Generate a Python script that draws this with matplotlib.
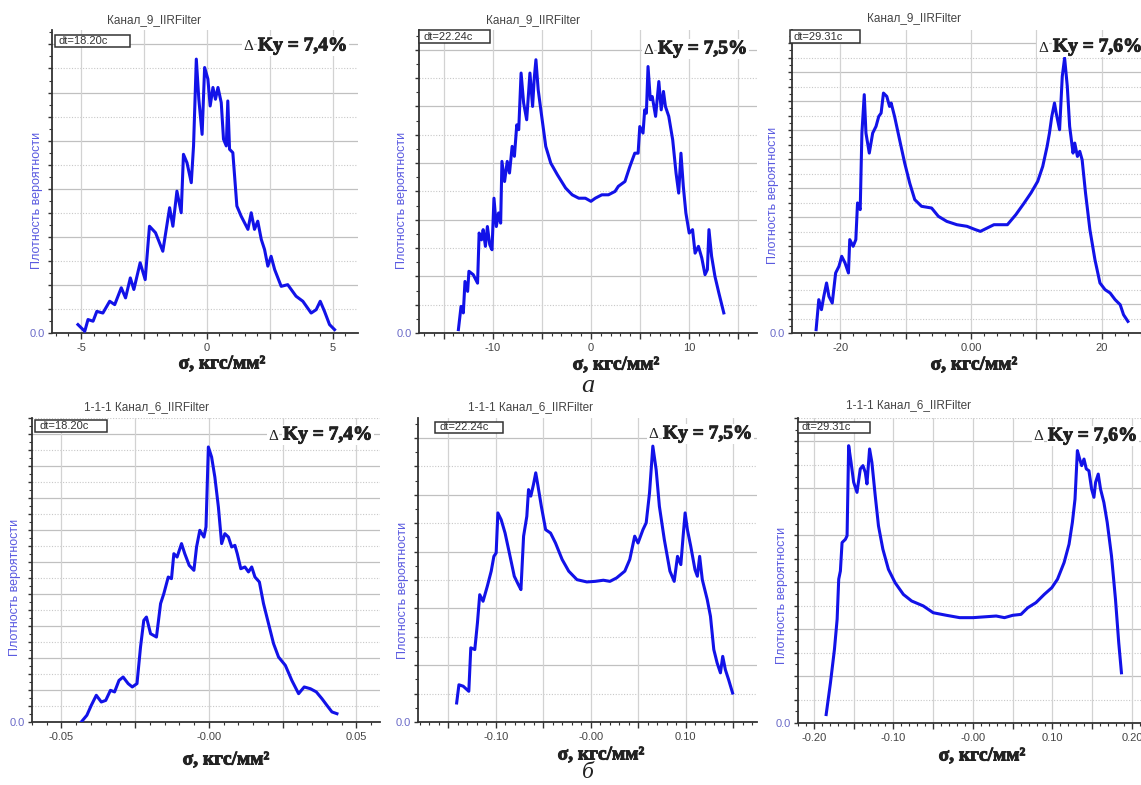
import matplotlib
matplotlib.use("Agg")
import matplotlib.pyplot as plt
import matplotlib.patheffects as pe
from matplotlib.patches import Rectangle
import numpy as np

p1_sigma = [-5.12, -4.85, -4.72, -4.52, -4.37, -4.13, -3.86, -3.66, -3.40, -3.23,
            -3.04, -2.90, -2.65, -2.45, -2.28, -2.04, -1.75, -1.48, -1.35, -1.19,
            -1.02, -0.93, -0.79, -0.62, -0.53, -0.42, -0.32, -0.19, -0.09, 0.04,
            0.13, 0.24, 0.34, 0.44, 0.57, 0.66, 0.77, 0.83, 0.90, 1.03,
            1.19, 1.36, 1.63, 1.76, 1.89, 2.02, 2.16, 2.29, 2.42, 2.55,
            2.69, 2.95, 3.21, 3.54, 3.81, 4.14, 4.34, 4.50, 4.67, 4.87, 5.07]
p1_density = [0.35, 0.07, 0.56, 0.49, 0.90, 0.83, 1.32, 1.18, 1.88, 1.46,
              2.29, 1.81, 2.92, 2.22, 4.44, 4.17, 3.40, 5.21, 4.44, 5.90,
              5.00, 7.43, 7.08, 6.25, 7.78, 11.39, 9.72, 8.26, 11.04, 10.56,
              9.44, 10.21, 9.72, 10.21, 9.58, 8.06, 7.78, 9.65, 7.64, 7.50,
              5.28, 4.86, 4.31, 5.00, 4.31, 4.65, 3.89, 3.47, 2.78, 3.19,
              2.64, 1.94, 2.01, 1.53, 1.32, 0.83, 0.97, 1.32, 0.90, 0.35, 0.14]

p2_sigma = [-13.49, -13.22, -12.99, -12.82, -12.55, -12.42, -11.98, -11.54, -11.38, -11.14,
            -10.97, -10.74, -10.54, -10.30, -10.07, -9.87, -9.63, -9.40, -9.19, -9.06,
            -8.79, -8.52, -8.29, -8.02, -7.79, -7.55, -7.35, -7.11, -6.85, -6.54,
            -6.21, -5.94, -5.77, -5.60, -5.37, -5.10, -4.60, -4.09, -3.42, -2.58,
            -1.91, -1.24, -0.57, 0.00, 0.44, 1.11, 1.78, 2.45, 2.79, 3.46,
            3.96, 4.46, 4.80, 4.97, 5.30, 5.47, 5.64, 5.81, 6.04, 6.24,
            6.58, 6.91, 7.15, 7.38, 7.58, 7.92, 8.32, 8.66, 8.93, 9.16,
            9.40, 9.66, 10.00, 10.34, 10.60, 10.94, 11.28, 11.61, 11.85, 12.01,
            12.28, 12.62, 13.02, 13.52]
p2_density = [0.12, 0.94, 0.71, 1.82, 1.47, 2.18, 2.06, 1.76, 3.53, 3.29,
              3.65, 3.06, 3.76, 3.12, 2.94, 4.76, 3.76, 4.24, 3.88, 6.06,
              5.35, 6.06, 5.65, 6.59, 6.24, 7.35, 7.18, 9.18, 8.12, 7.53,
              9.18, 8.00, 9.00, 9.65, 8.59, 7.88, 6.59, 6.00, 5.59, 5.12,
              4.88, 4.76, 4.76, 4.65, 4.76, 4.88, 4.88, 5.00, 5.18, 5.35,
              5.88, 6.35, 6.35, 7.29, 7.06, 7.88, 7.76, 9.41, 8.24, 8.35,
              7.65, 8.88, 7.88, 8.53, 8.00, 7.65, 6.82, 5.65, 4.94, 6.35,
              5.18, 4.24, 3.53, 3.65, 2.82, 3.06, 2.65, 2.06, 2.24, 3.65,
              2.71, 2.00, 1.41, 0.71]

p3_sigma = [-23.71, -23.30, -22.89, -22.53, -22.11, -21.75, -21.24, -20.72, -20.21, -19.79,
            -19.28, -18.76, -18.56, -18.04, -17.63, -17.37, -16.96, -16.70, -16.34, -16.08,
            -15.57, -15.05, -14.54, -14.12, -13.76, -13.40, -12.89, -12.47, -12.22, -11.70,
            -10.93, -10.15, -9.38, -8.61, -7.58, -6.03, -5.00, -3.71, -2.16, -0.62,
            0.67, 1.44, 2.47, 3.51, 5.57, 6.86, 8.14, 9.18, 10.21, 10.98,
            11.65, 12.01, 12.37, 12.78, 13.04, 13.56, 13.97, 14.33, 14.74, 15.10,
            15.62, 15.88, 16.29, 16.65, 17.01, 17.53, 18.20, 18.97, 19.74, 20.52,
            21.29, 22.06, 22.84, 23.35, 24.02]
p3_density = [0.23, 2.30, 1.61, 2.53, 3.45, 2.53, 2.07, 4.14, 4.60, 5.29,
              4.83, 4.14, 6.44, 5.98, 6.44, 8.97, 8.51, 13.79, 16.44, 13.79,
              12.41, 13.79, 14.25, 14.94, 15.17, 16.55, 16.32, 15.63, 15.86, 14.94,
              13.33, 11.72, 10.34, 9.20, 8.74, 8.62, 8.05, 7.70, 7.47, 7.36,
              7.13, 7.01, 7.24, 7.47, 7.47, 8.16, 8.97, 9.66, 10.46, 11.49,
              12.87, 13.79, 14.94, 15.86, 15.17, 14.02, 17.70, 18.97, 17.01, 14.25,
              12.41, 13.10, 12.18, 12.53, 11.95, 9.66, 7.13, 5.06, 3.45, 2.99,
              2.76, 2.30, 1.95, 1.26, 0.80]

p4_sigma = [-0.0433, -0.0414, -0.0399, -0.0382, -0.0365, -0.0350, -0.0334, -0.0320, -0.0305, -0.0291,
            -0.0274, -0.0260, -0.0244, -0.0232, -0.0221, -0.0212, -0.0198, -0.0178, -0.0164, -0.0153,
            -0.0138, -0.0127, -0.0119, -0.0108, -0.0093, -0.0082, -0.0067, -0.0051, -0.0042, -0.0031,
            -0.0017, -0.0010, -0.0002, 0.0009, 0.0020, 0.0032, 0.0043, 0.0054, 0.0066, 0.0077,
            0.0088, 0.0096, 0.0108, 0.0122, 0.0134, 0.0145, 0.0156, 0.0171, 0.0185, 0.0202,
            0.0219, 0.0236, 0.0259, 0.0281, 0.0304, 0.0323, 0.0344, 0.0364, 0.0383, 0.0400,
            0.0417, 0.0434]
p4_density = [0.00, 0.42, 1.04, 1.67, 1.25, 1.35, 1.98, 1.88, 2.60, 2.81,
              2.40, 2.19, 2.40, 4.69, 6.35, 6.56, 5.52, 5.31, 7.40, 8.02,
              9.06, 8.96, 10.52, 10.31, 11.15, 10.52, 9.79, 9.48, 10.94, 11.98,
              11.56, 12.19, 17.19, 16.56, 15.31, 13.44, 11.15, 11.77, 11.56, 10.94,
              11.04, 10.52, 9.58, 9.69, 9.38, 9.69, 9.06, 8.75, 7.40, 6.15,
              4.90, 4.06, 3.54, 2.60, 1.77, 2.19, 2.08, 1.88, 1.46, 1.04,
              0.63, 0.52]

p5_sigma = [-0.1413, -0.1389, -0.1344, -0.1285, -0.1264, -0.1222, -0.1194, -0.1170, -0.1135, -0.1090,
            -0.1049, -0.1021, -0.0997, -0.0979, -0.0944, -0.0903, -0.0858, -0.0806, -0.0764, -0.0736,
            -0.0708, -0.0674, -0.0656, -0.0632, -0.0604, -0.0580, -0.0556, -0.0521, -0.0476, -0.0424,
            -0.0372, -0.0302, -0.0233, -0.0146, -0.0042, 0.0045, 0.0132, 0.0201, 0.0271, 0.0358,
            0.0410, 0.0462, 0.0497, 0.0549, 0.0583, 0.0618, 0.0653, 0.0688, 0.0722, 0.0774,
            0.0833, 0.0878, 0.0913, 0.0948, 0.0972, 0.0993, 0.1017, 0.1052, 0.1097, 0.1122,
            0.1146, 0.1174, 0.1226, 0.1260, 0.1295, 0.1330, 0.1365, 0.1389, 0.1417, 0.1451,
            0.1493]
p5_density = [0.67, 1.31, 1.26, 1.08, 2.61, 2.55, 3.49, 4.48, 4.25, 4.78,
              5.31, 5.83, 5.95, 7.36, 7.12, 6.65, 5.95, 5.13, 4.84, 4.66,
              6.54, 7.24, 8.18, 7.95, 8.36, 8.77, 8.30, 7.59, 6.77, 6.65,
              6.30, 5.72, 5.31, 5.01, 4.93, 4.95, 4.99, 4.95, 5.07, 5.31,
              5.72, 6.54, 6.30, 6.77, 7.01, 8.06, 9.71, 8.88, 7.59, 6.42,
              5.31, 4.95, 5.83, 5.54, 6.54, 7.36, 6.77, 6.19, 5.36, 5.13,
              5.83, 5.01, 4.31, 3.72, 2.55, 2.08, 1.73, 2.31, 1.84, 1.49,
              1.02]

p6_sigma = [-0.1846, -0.1792, -0.1742, -0.1708, -0.1688, -0.1667, -0.1646, -0.1604, -0.1583, -0.1563,
            -0.1533, -0.1500, -0.1458, -0.1417, -0.1383, -0.1354, -0.1333, -0.1300, -0.1271, -0.1229,
            -0.1188, -0.1133, -0.1063, -0.0979, -0.0875, -0.0771, -0.0625, -0.0500, -0.0333, -0.0167,
            0.0000, 0.0167, 0.0292, 0.0396, 0.0500, 0.0604, 0.0688, 0.0792, 0.0896, 0.0992,
            0.1063, 0.1146, 0.1208, 0.1250, 0.1283, 0.1313, 0.1342, 0.1367, 0.1396, 0.1425,
            0.1458, 0.1492, 0.1521, 0.1542, 0.1575, 0.1604, 0.1646, 0.1688, 0.1742, 0.1792,
            0.1833, 0.1867]
p6_density = [0.36, 1.71, 3.13, 4.42, 6.13, 6.48, 7.69, 7.83, 7.98, 11.82,
              11.11, 10.26, 9.83, 10.83, 10.97, 10.68, 10.19, 11.68, 11.11, 9.69,
              8.40, 7.41, 6.55, 5.98, 5.48, 5.20, 4.99, 4.70, 4.59, 4.49,
              4.49, 4.53, 4.56, 4.49, 4.59, 4.63, 4.91, 5.13, 5.48, 5.77,
              6.13, 6.84, 7.62, 8.55, 9.54, 11.61, 11.25, 10.97, 11.25, 10.83,
              10.75, 9.97, 9.62, 10.26, 10.61, 9.97, 9.40, 8.55, 7.12, 5.27,
              3.42, 2.14]

# --- labels ---
titles = ["Канал_9_IIRFilter"] * 3 + ["1-1-1 Канал_6_IIRFilter"] * 3
dt_labels = ["dt=18.20c", "dt=22.24c", "dt=29.31c"] * 2
ky_labels = ["Ky = 7,4%", "Ky = 7,5%", "Ky = 7,6%"] * 2
x_labeled = [[-5, 0, 5], [-10, 0, 10], [-20, 0, 20],
             [-0.05, 0, 0.05], [-0.10, 0, 0.10], [-0.20, -0.10, 0, 0.10, 0.20]]
x_ticktext = [["-5", "0", "5"], ["-10", "0", "10"], ["-20", "0.00", "20"],
              ["-0.05", "-0.00", "0.05"], ["-0.10", "-0.00", "0.10"],
              ["-0.20", "-0.10", "-0.00", "0.10", "0.20"]]

W, H = 1141, 785
fig = plt.figure(figsize=(W / 100, H / 100), dpi=100)
fig.patch.set_facecolor("white")

SANS = ["Liberation Sans", "DejaVu Sans"]
SERIF = ["Liberation Serif", "DejaVu Serif"]
heavy = [pe.withStroke(linewidth=0.7, foreground="#222222")]


def fx(x):
    return x / W


def fy(y):
    return 1 - y / H


# pixel layout of each panel: axes box, xlim, ylim top, grid step, minor tick step
layout = [
    dict(box=(52, 30, 358, 333), xlim=(-6.15, 6.0), ytop=12.6, xgrid=2.5, xminor=0.5,
         title=(154, 20), dt=(55, 35, 130, 47), ky=(243, 46), ylab=(37, 200), xlab=(222, 364)),
    dict(box=(419, 30, 757, 333), xlim=(-17.5, 16.9), ytop=10.7, xgrid=5, xminor=1,
         title=(533, 20), dt=(419, 30, 490, 43), ky=(643, 49), ylab=(402, 200), xlab=(616, 365)),
    dict(box=(792, 30, 1150, 333), xlim=(-27.4, 27.4), ytop=20.9, xgrid=10, xminor=2,
         title=(914, 18), dt=(790, 30, 860, 43), ky=(1038, 47), ylab=(773, 195), xlab=(974, 365)),
    dict(box=(32, 418, 380, 722), xlim=(-0.060, 0.058), ytop=19.0, xgrid=0.025, xminor=0.005,
         title=(146, 407), dt=(35, 420, 107, 432), ky=(268, 435), ylab=(15, 587), xlab=(226, 760)),
    dict(box=(418, 418, 757, 722), xlim=(-0.182, 0.175), ytop=10.7, xgrid=0.05, xminor=0.01,
         title=(530, 407), dt=(435, 422, 503, 433), ky=(648, 434), ylab=(403, 590), xlab=(601, 755)),
    dict(box=(798, 418, 1150, 723), xlim=(-0.22, 0.2226), ytop=13.0, xgrid=0.05, xminor=0.01,
         title=(909, 405), dt=(798, 422, 870, 433), ky=(1033, 436), ylab=(782, 595), xlab=(982, 756)),
]
curves = [(p1_sigma, p1_density), (p2_sigma, p2_density), (p3_sigma, p3_density),
          (p4_sigma, p4_density), (p5_sigma, p5_density), (p6_sigma, p6_density)]

for i, (lay, (xs, ys)) in enumerate(zip(layout, curves)):
    l, t, r, b = lay["box"]
    ax = fig.add_axes([fx(l), fy(b), (r - l) / W, (b - t) / H])
    ax.set_xlim(*lay["xlim"])
    ax.set_ylim(0, lay["ytop"])

    # grid: horizontal every unit (solid on even, dotted on odd), vertical on xgrid
    for k in range(1, int(lay["ytop"]) + 1):
        if k % 2 == 0:
            ax.axhline(k, color="#c0c0c0", lw=0.9, zorder=0)
        else:
            ax.axhline(k, color="#c8c8c8", lw=0.8, ls=(0, (1, 1.5)), zorder=0)
    g = lay["xgrid"]
    xv = np.arange(np.ceil(lay["xlim"][0] / g) * g, lay["xlim"][1] + 1e-9, g)
    for v in xv:
        ax.axvline(v, color="#d2d2d2", lw=0.9, zorder=0)

    ax.plot(xs, ys, color="#1212e8", lw=2.2, solid_joinstyle="round", zorder=3)

    for s in ("top", "right"):
        ax.spines[s].set_visible(False)
    for s in ("left", "bottom"):
        ax.spines[s].set_color("#333333")
        ax.spines[s].set_linewidth(1.3)

    # x ticks: major on grid, labels only on the named values
    labeled = x_labeled[i]
    ax.set_xticks(xv)
    txt = []
    for v in xv:
        hit = [n for n, lv in enumerate(labeled) if abs(lv - v) < g * 1e-3]
        txt.append(x_ticktext[i][hit[0]] if hit else "")
    ax.set_xticklabels(txt)
    m = lay["xminor"]
    ax.set_xticks(np.arange(np.ceil(lay["xlim"][0] / m) * m, lay["xlim"][1], m), minor=True)

    yt = np.arange(0, int(lay["ytop"]) + 1)
    ax.set_yticks(yt)
    ax.set_yticklabels(["0.0"] + [""] * (len(yt) - 1))
    ax.set_yticks(np.arange(0, lay["ytop"], 0.5), minor=True)

    ax.tick_params(axis="x", which="major", direction="out", length=4, width=1,
                   color="#333333", labelsize=8, labelcolor="#444444", pad=3.5)
    ax.tick_params(axis="x", which="minor", direction="out", length=2, width=0.8,
                   color="#333333")
    ax.tick_params(axis="y", which="major", direction="out", length=3, width=1,
                   color="#333333", labelsize=8, labelcolor="#6a6ac8", pad=2)
    ax.tick_params(axis="y", which="minor", direction="out", length=2, width=0.8,
                   color="#333333")
    for lab in ax.get_xticklabels() + ax.get_yticklabels():
        lab.set_family(SANS)

    # panel title
    fig.text(fx(lay["title"][0]), fy(lay["title"][1]), titles[i], ha="center", va="center",
             fontsize=8.5, color="#444444", family=SANS)

    # dt box
    x0, y0, x1, y1 = lay["dt"]
    fig.add_artist(Rectangle((fx(x0), fy(y1)), (x1 - x0) / W, (y1 - y0) / H,
                             transform=fig.transFigure, facecolor="white",
                             edgecolor="#333333", lw=1.1, zorder=5))
    fig.text(fx(x0 + 4), fy((y0 + y1) / 2), dt_labels[i], ha="left", va="center",
             fontsize=8, color="#333333", family=SANS, zorder=6)

    # delta Ky annotation
    kx, ky = lay["ky"]
    fig.text(fx(kx), fy(ky + 1), "Δ", ha="left", va="center", fontsize=11,
             color="#222222", family=SERIF, zorder=6,
             bbox=dict(facecolor="white", edgecolor="none", pad=1))
    fig.text(fx(kx + 15), fy(ky), ky_labels[i], ha="left", va="center", fontsize=14,
             fontweight="bold", color="#222222", family=SERIF, zorder=6,
             path_effects=heavy,
             bbox=dict(facecolor="white", edgecolor="none", pad=1))

    # axis titles
    fig.text(fx(lay["ylab"][0]), fy(lay["ylab"][1]), "Плотность вероятности",
             rotation=90, ha="center", va="center", fontsize=9, color="#5a5ae0",
             family=SANS)
    fig.text(fx(lay["xlab"][0]), fy(lay["xlab"][1]), "σ, кгс/мм²", ha="center",
             va="center", fontsize=14, fontweight="bold", color="#222222", family=SERIF,
             path_effects=heavy)

# sub-figure letters
fig.text(fx(588), fy(386), "а", ha="center", va="center", fontsize=19,
         style="italic", color="#222222", family=SERIF)
fig.text(fx(588), fy(773), "б", ha="center", va="center", fontsize=17,
         style="italic", color="#222222", family=SERIF)

fig.savefig("out.png", dpi=100, facecolor="white")
